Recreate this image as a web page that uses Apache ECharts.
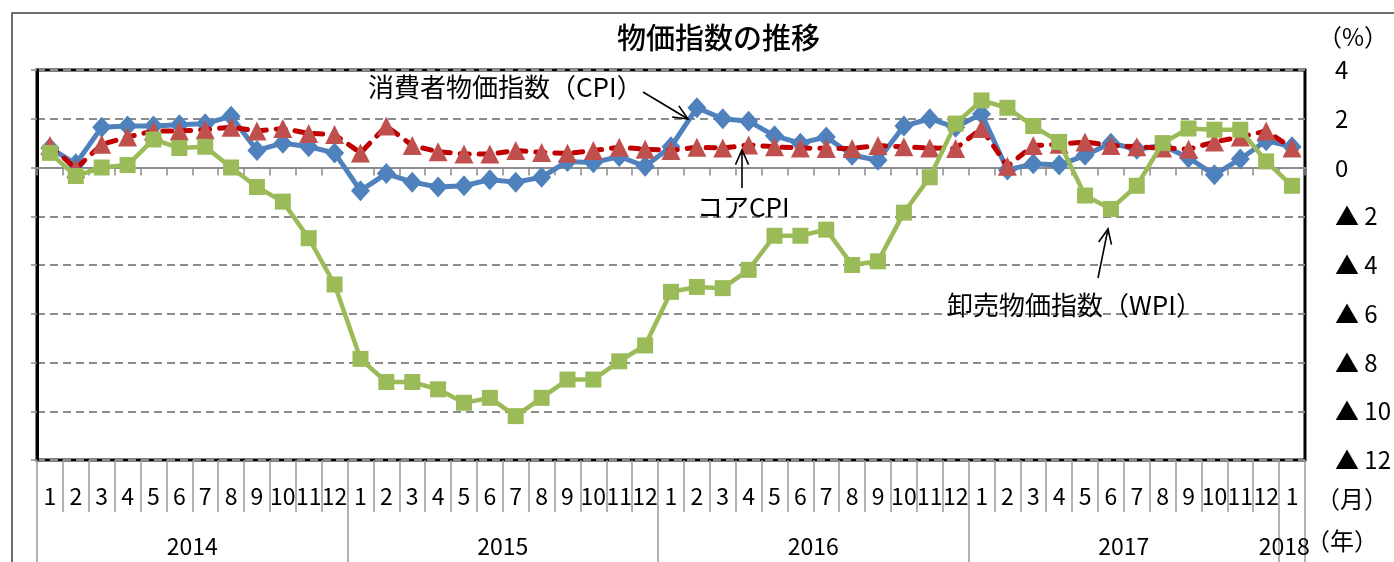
<!DOCTYPE html>
<html>
<head>
<meta charset="utf-8">
<script src="https://cdn.jsdelivr.net/npm/echarts@6/dist/echarts.min.js"></script>
<style>
html,body{margin:0;padding:0;background:#fff;}
#c{width:1394px;height:562px;}
</style>
</head>
<body>
<div id="c"></div>
<script>
// ---- data ----
var years = ['2014', '2015', '2016', '2017', '2018'];
var monthsPerYear = [12, 12, 12, 12, 1];
var cpi = [
  0.8, 0.15, 1.65, 1.7, 1.7, 1.75, 1.8, 2.1, 0.7, 1.0, 0.85, 0.6,
  -0.95, -0.25, -0.6, -0.8, -0.75, -0.5, -0.6, -0.4, 0.25, 0.2, 0.45, 0.05,
  0.85, 2.45, 2.0, 1.9, 1.3, 1.0, 1.25, 0.5, 0.3, 1.7, 2.0, 1.65,
  2.2, -0.1, 0.15, 0.1, 0.5, 1.0, 0.75, 0.9, 0.4, -0.3, 0.35, 1.1,
  0.85
];
var coreCpi = [
  0.9, -0.05, 0.95, 1.25, 1.5, 1.5, 1.55, 1.65, 1.5, 1.6, 1.4, 1.35,
  0.6, 1.7, 0.9, 0.65, 0.55, 0.55, 0.7, 0.62, 0.58, 0.7, 0.83, 0.75,
  0.7, 0.83, 0.8, 0.92, 0.85, 0.8, 0.78, 0.78, 0.9, 0.85, 0.8, 0.78,
  1.6, 0.05, 0.9, 0.95, 1.05, 0.9, 0.85, 0.8, 0.75, 1.05, 1.25, 1.5,
  0.8
];
var wpi = [
  0.6, -0.35, 0.0, 0.1, 1.15, 0.8, 0.85, 0.0, -0.8, -1.4, -2.9, -4.8,
  -7.85, -8.8, -8.8, -9.1, -9.65, -9.45, -10.2, -9.45, -8.7, -8.7, -7.95, -7.3,
  -5.1, -4.9, -4.95, -4.2, -2.8, -2.8, -2.55, -4.0, -3.85, -1.85, -0.4, 1.8,
  2.75, 2.45, 1.7, 1.05, -1.15, -1.7, -0.75, 1.0, 1.6, 1.55, 1.55, 0.25,
  -0.75
];
var yTicks = [4, 2, 0, -2, -4, -6, -8, -10, -12];
var titleText = '物価指数の推移';
var seriesNames = ['消費者物価指数（CPI）', 'コアCPI', '卸売物価指数（WPI）'];

// ---- derived ----
var months = [];
var yearStart = [], yearMid = [];
var idx = 0;
var totalMonths = monthsPerYear.reduce(function (a, b) { return a + b; }, 0);
for (var y = 0; y < years.length; y++) {
  yearStart.push(idx);
  yearMid.push(Math.min(idx + monthsPerYear[y] / 2, totalMonths - 0.8));
  for (var m = 1; m <= monthsPerYear[y]; m++) { months.push(String(m)); idx++; }
}
var nCat = months.length;
var yearTickVals = yearStart.concat([nCat]);
var FONT = '"Noto Sans CJK JP", "Noto Sans", sans-serif';
var GRID = '#8c8c8c';

function arrow(x1, y1, x2, y2) {
  var ang = Math.atan2(y2 - y1, x2 - x1);
  var L = 16, a = 0.42;
  var p1 = [x2 - L * Math.cos(ang - a), y2 - L * Math.sin(ang - a)];
  var p2 = [x2 - L * Math.cos(ang + a), y2 - L * Math.sin(ang + a)];
  return [
    {type: 'line', shape: {x1: x1, y1: y1, x2: x2, y2: y2}, style: {stroke: '#000', lineWidth: 1.6}, z: 100},
    {type: 'polyline', shape: {points: [p1, [x2, y2], p2]}, style: {stroke: '#000', lineWidth: 1.6, fill: null}, z: 100}
  ];
}
function label(text, x, y) {
  return {type: 'text', x: x, y: y, z: 100,
    style: {text: text, fill: '#000', font: '26px ' + FONT, textVerticalAlign: 'middle', textAlign: 'left'}};
}

var chart = echarts.init(document.getElementById('c'), null, {renderer: 'canvas'});
var graphics = [
  {type: 'rect', shape: {x: 12, y: 13, width: 1400, height: 600}, style: {stroke: '#404040', lineWidth: 1.5, fill: null}, z: 0, silent: true},
  {type: 'text', x: 1318, y: 37, style: {text: '（%）', fill: '#000', font: '24px ' + FONT, textVerticalAlign: 'middle'}, z: 100},
  {type: 'text', x: 1316, y: 499, style: {text: '（月）', fill: '#000', font: '24px ' + FONT, textVerticalAlign: 'middle'}, z: 100},
  {type: 'text', x: 1306, y: 541, style: {text: '（年）', fill: '#000', font: '24px ' + FONT, textVerticalAlign: 'middle'}, z: 100},
  label(seriesNames[0], 368, 87),
  label(seriesNames[1], 697, 207),
  label(seriesNames[2], 947, 305)
].concat(arrow(643, 92, 688, 119), arrow(742, 188, 742, 150), arrow(1098, 278, 1108, 229));

chart.setOption({
  animation: false,
  backgroundColor: '#fff',
  textStyle: {fontFamily: FONT},
  title: {
    text: titleText, left: 612, top: 18,
    textStyle: {fontSize: 29, fontWeight: 500, color: '#000', fontFamily: FONT}
  },
  grid: {left: 37, right: 86, top: 70, bottom: 102, show: true, borderColor: '#000', borderWidth: 3, backgroundColor: 'transparent'},
  xAxis: [
    {
      type: 'category', data: months, boundaryGap: true,
      axisLine: {onZero: true, lineStyle: {color: GRID, width: 2}},
      axisTick: {show: true, interval: 0, length: 8, lineStyle: {color: GRID, width: 1.5}},
      axisLabel: {show: false}, splitLine: {show: false}
    },
    {
      type: 'category', data: months, boundaryGap: true, position: 'bottom',
      axisLine: {show: false, onZero: false},
      axisTick: {show: true, interval: 0, length: 52, lineStyle: {color: '#999', width: 1.5}},
      axisLabel: {show: true, interval: 0, margin: 25, fontSize: 23, color: '#000', fontFamily: FONT},
      splitLine: {show: false}
    },
    {
      type: 'value', min: 0, max: nCat, position: 'bottom',
      axisLine: {show: false, onZero: false},
      axisTick: {show: true, customValues: yearTickVals, length: 102, lineStyle: {color: '#999', width: 1.5}},
      axisLabel: {
        show: true, customValues: yearMid, margin: 75, fontSize: 23, color: '#000', fontFamily: FONT,
        formatter: function (v) { var i = yearMid.indexOf(v); return i >= 0 ? years[i] : ''; }
      },
      splitLine: {show: false}
    }
  ],
  yAxis: [
    {
      type: 'value', min: yTicks[yTicks.length - 1], max: yTicks[0], interval: 2, position: 'right',
      axisLine: {show: false}, axisTick: {show: false},
      axisLabel: {
        margin: 30, fontSize: 24, color: '#000', fontFamily: FONT,
        formatter: function (v) { return v < 0 ? '▲ ' + (-v) : String(v); }
      },
      splitLine: {show: true, lineStyle: {color: GRID, width: 2, type: [8, 5]}}
    },
    {
      type: 'value', min: yTicks[yTicks.length - 1], max: yTicks[0], interval: 2, position: 'left',
      axisLine: {show: true, lineStyle: {color: '#000', width: 3}},
      axisTick: {show: true, length: 6, lineStyle: {color: GRID, width: 1.5}},
      axisLabel: {show: false}, splitLine: {show: false}
    }
  ],
  series: [
    {
      name: seriesNames[0], type: 'line', data: cpi, xAxisIndex: 0, yAxisIndex: 0,
      symbol: 'diamond', symbolSize: [19, 21], showAllSymbol: true,
      lineStyle: {color: '#4F81BD', width: 5}, itemStyle: {color: '#4F81BD'}, z: 3
    },
    {
      name: seriesNames[1], type: 'line', data: coreCpi, xAxisIndex: 0, yAxisIndex: 0,
      symbol: 'triangle', symbolSize: 19, showAllSymbol: true,
      lineStyle: {color: '#C00000', width: 5, type: [9, 10], cap: 'round'}, itemStyle: {color: '#C0504D'}, z: 4
    },
    {
      name: seriesNames[2], type: 'line', data: wpi, xAxisIndex: 0, yAxisIndex: 0,
      symbol: 'rect', symbolSize: 16, showAllSymbol: true,
      lineStyle: {color: '#9BBB59', width: 4.5}, itemStyle: {color: '#9BBB59'}, z: 5
    }
  ],
  graphic: graphics
});
</script>
</body>
</html>
